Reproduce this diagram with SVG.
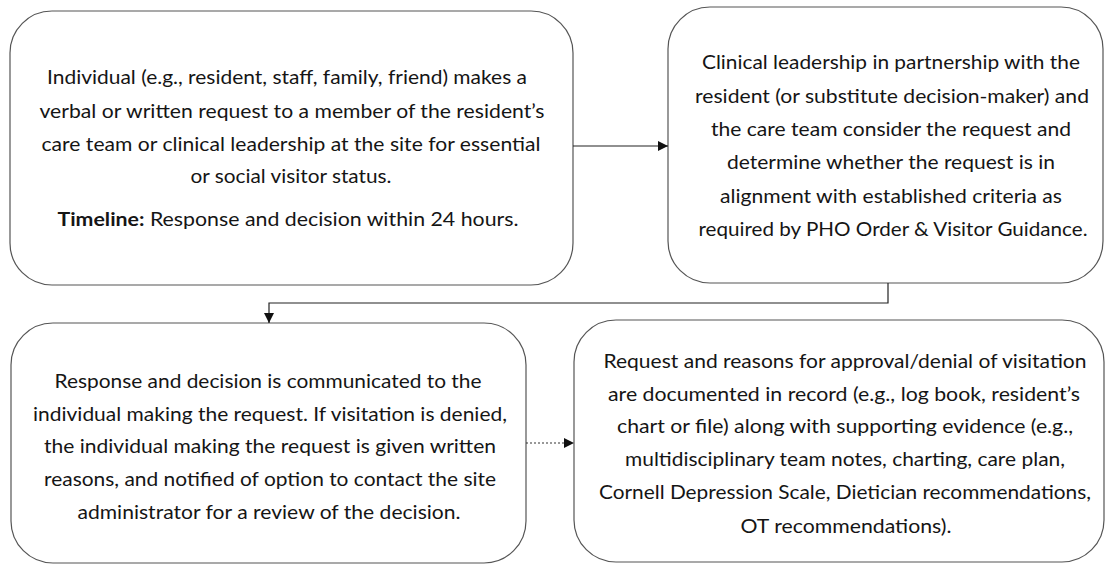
<svg xmlns="http://www.w3.org/2000/svg" width="1105" height="565" viewBox="0 0 1105 565">
<style>
.box{fill:#ffffff;stroke:#555555;stroke-width:1.2}
.t{font-family:Lato,"Liberation Sans",sans-serif;font-size:19px;fill:#151515;text-anchor:middle}
.b{font-weight:bold}
.conn{fill:none;stroke:#222222;stroke-width:1.2}
.dot{fill:none;stroke:#333333;stroke-width:1.2;stroke-dasharray:2 2}
</style>
<defs>
<marker id="arr" viewBox="0 0 10 10" refX="10" refY="5" markerWidth="10" markerHeight="10" markerUnits="userSpaceOnUse" orient="auto">
<path d="M0,0 L10,5 L0,10 Z" fill="#111111"/>
</marker>
</defs>
<rect width="1105" height="565" fill="#ffffff"/>
<g id="node1">
<rect class="box" x="10" y="11" width="563" height="274" rx="42" ry="42"/>
<text class="t" x="287" y="84" textLength="480" lengthAdjust="spacingAndGlyphs">Individual (e.g., resident, staff, family, friend) makes a</text>
<text class="t" x="292" y="118" textLength="505" lengthAdjust="spacingAndGlyphs">verbal or written request to a member of the resident’s</text>
<text class="t" x="291" y="151" textLength="499" lengthAdjust="spacingAndGlyphs">care team or clinical leadership at the site for essential</text>
<text class="t" x="291" y="183" textLength="201" lengthAdjust="spacingAndGlyphs">or social visitor status.</text>
<text class="t" x="288" y="226" textLength="461" lengthAdjust="spacingAndGlyphs"><tspan class="b">Timeline:</tspan> Response and decision within 24 hours.</text>
</g>
<g id="node2">
<rect class="box" x="668" y="7" width="435" height="276" rx="42" ry="42"/>
<text class="t" x="891" y="69" textLength="378" lengthAdjust="spacingAndGlyphs">Clinical leadership in partnership with the</text>
<text class="t" x="892" y="103" textLength="394" lengthAdjust="spacingAndGlyphs">resident (or substitute decision-maker) and</text>
<text class="t" x="891" y="136" textLength="360" lengthAdjust="spacingAndGlyphs">the care team consider the request and</text>
<text class="t" x="891" y="169" textLength="328" lengthAdjust="spacingAndGlyphs">determine whether the request is in</text>
<text class="t" x="891" y="203" textLength="342" lengthAdjust="spacingAndGlyphs">alignment with established criteria as</text>
<text class="t" x="893" y="236" textLength="389" lengthAdjust="spacingAndGlyphs">required by PHO Order &amp; Visitor Guidance.</text>
</g>
<g id="node3">
<rect class="box" x="11" y="323" width="515" height="240" rx="42" ry="42"/>
<text class="t" x="268" y="388" textLength="427" lengthAdjust="spacingAndGlyphs">Response and decision is communicated to the</text>
<text class="t" x="270" y="421" textLength="474" lengthAdjust="spacingAndGlyphs">individual making the request. If visitation is denied,</text>
<text class="t" x="270" y="453" textLength="452" lengthAdjust="spacingAndGlyphs">the individual making the request is given written</text>
<text class="t" x="270" y="486" textLength="452" lengthAdjust="spacingAndGlyphs">reasons, and notified of option to contact the site</text>
<text class="t" x="269" y="519" textLength="383" lengthAdjust="spacingAndGlyphs">administrator for a review of the decision.</text>
</g>
<g id="node4">
<rect class="box" x="574" y="320" width="530" height="242" rx="42" ry="42"/>
<text class="t" x="845" y="368" textLength="483" lengthAdjust="spacingAndGlyphs">Request and reasons for approval/denial of visitation</text>
<text class="t" x="844" y="401" textLength="472" lengthAdjust="spacingAndGlyphs">are documented in record (e.g., log book, resident’s</text>
<text class="t" x="845" y="433" textLength="456" lengthAdjust="spacingAndGlyphs">chart or file) along with supporting evidence (e.g.,</text>
<text class="t" x="845" y="466" textLength="440" lengthAdjust="spacingAndGlyphs">multidisciplinary team notes, charting, care plan,</text>
<text class="t" x="845" y="499" textLength="492" lengthAdjust="spacingAndGlyphs">Cornell Depression Scale, Dietician recommendations,</text>
<text class="t" x="846" y="533" textLength="211" lengthAdjust="spacingAndGlyphs">OT recommendations).</text>
</g>
<g id="connectors">
<path class="conn" d="M573,146 L668,146" marker-end="url(#arr)"/>
<path class="conn" d="M888,283 L888,303 L269,303 L269,323" marker-end="url(#arr)"/>
<path class="dot" d="M526,443 L574,443" marker-end="url(#arr)"/>
</g>
</svg>
